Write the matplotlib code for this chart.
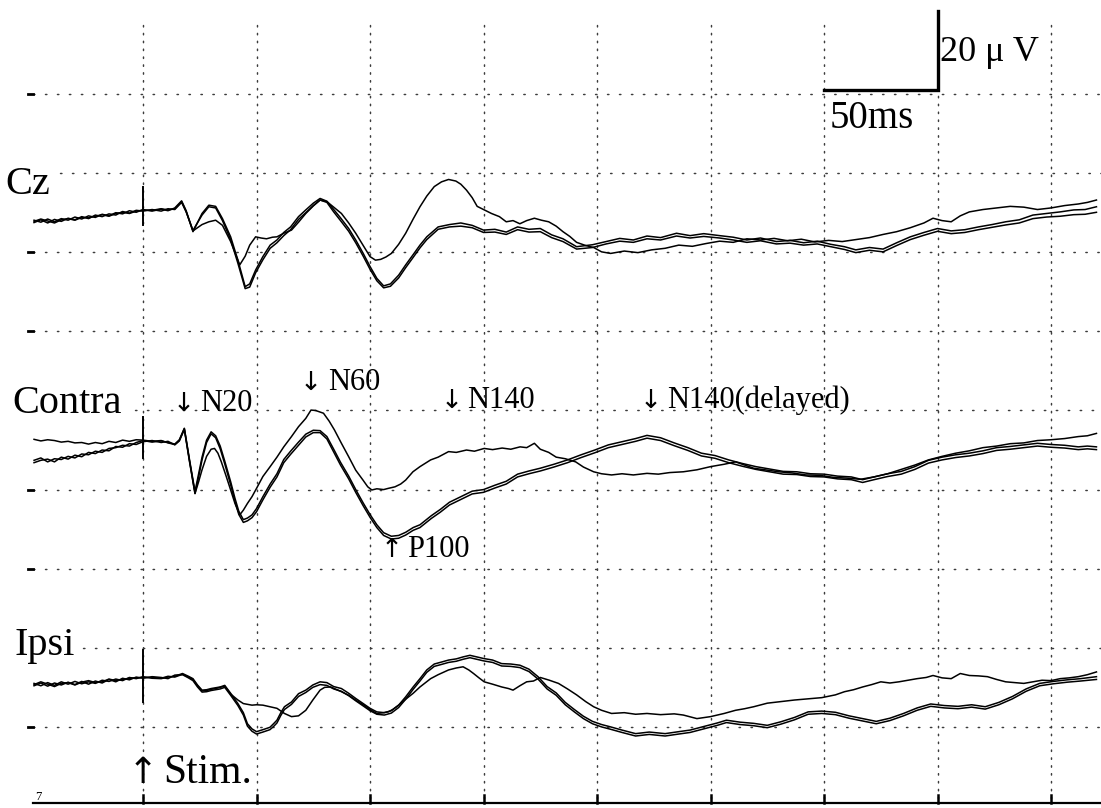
import matplotlib
matplotlib.use("Agg")
import matplotlib.pyplot as plt

# ---------------- data (time in ms from stimulus, amplitude in microvolts, negative up) -------------
cz_a = [(-48,1.9),(-45,2.4),(-42,1.6),(-39,2.3),(-36,1.5),(-33,1.9),(-30,1.1),(-27,1.6),(-24,0.8),(-21,1.2),(-18,0.4),(-15,0.8),(-12,0.0),(-9,0.3),(-6,-0.5),(-3,-0.1),(0,-0.8),(4,-0.4),(8,-0.9),(11,-0.5),(14,-1.2),(17,-3.0),(19,-0.5),(22,4.8),(26,0.2),(29,-1.9),(32,-1.6),(35,1.5),(38.6,6.1),(41.8,12.0),(45,18.7),(47,18.0),(49.6,14.5),(52.8,11.1),(56,8.2),(59,6.9),(62,5.0),(65,3.6),(68.5,1.0),(71.7,-0.7),(75,-2.4),(78,-3.6),(81,-2.9),(84,-0.8),(87,1.3),(90.6,4.0),(93.7,6.9),(97,10.3),(100,13.6),(103,16.6),(106,18.5),(109,18.0),(112.6,15.8),(115.7,13.2),(119,10.6),(122,8.2),(125,6.1),(130,3.6),(135,3.0),(140,2.6),(145,3.2),(150,4.4),(155,4.2),(160,4.9),(165,3.6),(170,4.2),(175,4.0),(180,5.6),(185,6.6),(191,8.6),(198,8.1),(204,7.3),(210,6.5),(216,6.9),(222,5.9),(228,6.3),(235,5.2),(241,5.8),(247,5.3),(254,5.8),(260,6.2),(266,6.9),(272,6.4),(279,7.3),(285,7.0),(291,7.6),(297,7.2),(303,8.0),(309,8.6),(314,9.4),(320,8.8),(326,9.2),(332,7.6),(338,6.1),(344,5.0),(350,4.0),(356,4.6),(362,4.3),(368,3.6),(374,3.0),(380,2.3),(386,1.8),(392,0.6),(398,0.2),(404,-0.2),(410,-0.7),(415,-0.8),(420,-1.5)]

cz_b = [(-48,2.5),(-45,1.8),(-42,2.6),(-39,1.7),(-36,2.2),(-33,1.4),(-30,1.8),(-27,1.0),(-24,1.5),(-21,0.6),(-18,1.0),(-15,0.3),(-12,0.6),(-9,-0.3),(-6,0.1),(-3,-0.6),(0,-0.4),(4,-0.8),(8,-0.4),(11,-1.0),(14,-0.8),(17,-2.6),(19,-0.2),(22,4.5),(26,0.6),(29,-1.5),(32,-1.2),(35,2.0),(38.6,6.8),(41.8,12.8),(45,19.2),(47,18.8),(49.6,15.2),(52.8,11.9),(56,9.0),(59,7.6),(62,5.8),(65,4.3),(68.5,1.7),(71.7,0.0),(75,-1.8),(78,-3.2),(81,-2.6),(84,-0.2),(87,2.0),(90.6,4.7),(93.7,7.6),(97,11.0),(100,14.3),(103,17.2),(106,19.0),(109,18.6),(112.6,16.5),(115.7,13.9),(119,11.3),(122,8.9),(125,6.8),(130,4.2),(135,3.6),(140,3.4),(145,3.8),(150,5.0),(155,4.9),(160,5.5),(165,4.3),(170,4.9),(175,4.8),(180,6.3),(185,7.3),(191,9.2),(198,8.8),(204,7.9),(210,7.2),(216,7.5),(222,6.6),(228,6.9),(235,5.9),(241,6.4),(247,6.0),(254,6.4),(260,6.9),(266,7.5),(272,7.1),(279,7.9),(285,7.7),(291,8.2),(297,7.9),(303,8.6),(309,9.3),(314,10.1),(320,9.5),(326,9.9),(332,8.3),(338,6.8),(344,5.7),(350,4.7),(356,5.3),(362,5.0),(368,4.3),(374,3.7),(380,3.1),(386,2.6),(392,1.5),(398,1.1),(404,0.9),(410,0.5),(415,0.4),(420,-0.1)]

cz_c = [(-48,2.2),(-45,1.6),(-42,2.1),(-39,2.6),(-36,1.8),(-33,1.5),(-30,1.9),(-27,1.2),(-24,1.3),(-21,0.9),(-18,0.5),(-15,0.9),(-12,0.2),(-9,-0.1),(-6,0.2),(-3,-0.4),(0,-0.6),(4,-0.6),(8,-1.0),(11,-0.7),(14,-1.0),(17,-2.8),(19,-0.3),(22,4.6),(26,3.0),(29,2.3),(32,1.9),(35,3.2),(38.6,7.3),(42.6,13.2),(45,11.0),(47,8.2),(49.6,6.1),(52,6.4),(54.4,6.6),(57,6.2),(59,6.1),(62,5.2),(65.4,4.4),(68.5,2.4),(71.7,0.2),(75,-1.7),(78,-3.2),(81,-2.8),(84,-1.4),(87.4,0.2),(90.6,2.6),(93.7,5.2),(97,8.3),(100,11.1),(102.4,12.0),(104.7,11.8),(107,11.2),(109.4,10.3),(112.6,8.0),(115.7,5.2),(119,1.6),(122,-1.5),(125,-4.2),(128.3,-6.6),(131.5,-7.8),(134.6,-8.4),(137.8,-8.0),(140,-7.2),(142.5,-5.7),(145,-3.8),(147.2,-1.6),(150,-0.8),(153.5,0.2),(157,1.0),(160,2.3),(163,2.0),(166,2.8),(169,2.0),(172.4,1.4),(175.5,1.9),(178.7,2.3),(182,3.4),(185,4.8),(188,6.0),(191,7.5),(195,8.3),(198.5,8.8),(202,9.9),(206,10.3),(212,9.7),(218,10.1),(224,9.4),(230,9.0),(236,8.2),(242,8.5),(248,7.8),(254,7.2),(260,7.5),(266,6.6),(272,6.9),(278,6.5),(284,7.1),(290,6.7),(296,7.4),(302,7.0),(308,7.3),(314,6.8),(320,6.3),(326,5.5),(332,4.8),(338,3.8),(344,2.6),(348,1.4),(352,2.0),(356,2.3),(360,0.8),(364,-0.2),(370,-0.8),(376,-1.2),(382,-1.6),(388,-1.4),(394,-0.8),(400,-1.2),(406,-1.8),(412,-2.2),(416,-2.6),(420,-3.2)]

contra_a = [(-48,2.6),(-45,2.0),(-42,3.0),(-39,2.2),(-36,2.4),(-33,1.6),(-30,2.0),(-27,1.0),(-24,1.2),(-21,0.3),(-18,0.6),(-15,-0.4),(-12,-0.6),(-9,-1.2),(-6,-1.0),(-3,-1.9),(0,-2.4),(4,-2.0),(8,-2.3),(11,-1.9),(14,-1.5),(16,-2.6),(18.2,-5.5),(20.5,2.5),(22.9,10.5),(24.5,6.0),(26,1.8),(28,-2.5),(30,-4.6),(32,-3.6),(34,-1.0),(36,2.8),(38.6,8.0),(40.5,12.2),(42.2,15.5),(44.2,17.6),(46,17.2),(48,16.4),(50,14.8),(52.8,11.8),(56,8.6),(59,6.0),(62,2.4),(65,0.3),(68.5,-2.0),(71.7,-4.0),(75,-5.0),(78,-4.9),(81,-3.4),(84,-0.2),(87,3.1),(90.6,6.6),(93.7,10.0),(97,13.4),(100,16.3),(103,18.9),(106,20.9),(109.4,21.8),(112.6,21.6),(115.7,20.8),(119,19.6),(122,18.9),(127,16.6),(131,15.0),(135,13.2),(140,11.8),(145,10.4),(150,10.0),(155,8.9),(160,7.9),(165,6.1),(170,5.3),(175,4.6),(181,3.6),(187,2.5),(193,1.2),(199,0.0),(205,-1.3),(211,-2.1),(217,-2.9),(222,-3.7),(228,-3.1),(234,-1.8),(240,-0.6),(246,0.8),(252,1.4),(258,2.5),(264,3.4),(270,4.2),(276,4.8),(282,5.4),(288,5.5),(294,6.0),(300,6.1),(306,6.6),(312,6.8),(317,7.5),(322,6.8),(328,6.0),(334,5.4),(340,4.2),(346,2.6),(352,1.8),(358,1.2),(364,0.8),(370,0.2),(376,-0.6),(382,-0.9),(388,-1.3),(394,-1.7),(400,-1.4),(406,-1.2),(412,-0.8),(416,-1.0),(420,-0.8)]

contra_b = [(-48,3.2),(-45,2.6),(-42,2.3),(-39,3.0),(-36,1.8),(-33,2.3),(-30,1.3),(-27,1.7),(-24,0.6),(-21,0.9),(-18,0.0),(-15,0.2),(-12,-0.9),(-9,-0.7),(-6,-1.6),(-3,-1.4),(0,-2.1),(4,-2.4),(8,-1.9),(11,-2.2),(14,-1.3),(16,-2.3),(18.2,-5.2),(20.5,3.0),(22.9,11.0),(24.5,6.8),(26,2.5),(28,-1.9),(30,-4.1),(32,-3.1),(34,-0.3),(36,3.5),(38.6,8.8),(40.5,13.0),(42.2,16.3),(44.2,18.3),(46,17.9),(48,17.1),(50,15.6),(52.8,12.6),(56,9.4),(59,6.8),(62,3.2),(65,1.1),(68.5,-1.2),(71.7,-3.3),(75,-4.4),(78,-4.4),(81,-2.8),(84,0.5),(87,3.8),(90.6,7.3),(93.7,10.7),(97,14.1),(100,17.0),(103,19.6),(106,21.6),(109.4,22.5),(112.6,22.3),(115.7,21.5),(119,20.3),(122,19.6),(127,17.3),(131,15.7),(135,13.9),(140,12.5),(145,11.1),(150,10.7),(155,9.6),(160,8.6),(165,6.8),(170,6.0),(175,5.3),(181,4.3),(187,3.2),(193,1.9),(199,0.7),(205,-0.6),(211,-1.4),(217,-2.2),(222,-3.0),(228,-2.4),(234,-1.1),(240,0.1),(246,1.5),(252,2.1),(258,3.2),(264,4.1),(270,4.9),(276,5.5),(282,6.1),(288,6.2),(294,6.7),(300,6.8),(306,7.3),(312,7.5),(317,8.2),(322,7.5),(328,6.7),(334,6.1),(340,4.9),(346,3.3),(352,2.5),(358,1.9),(364,1.5),(370,0.9),(376,0.1),(382,-0.2),(388,-0.6),(394,-1.0),(400,-0.7),(406,-0.5),(412,-0.1),(416,-0.3),(420,-0.1)]

contra_c = [(-48,-2.7),(-45,-2.3),(-42,-2.6),(-39,-2.4),(-36,-2.0),(-33,-2.2),(-30,-1.8),(-27,-1.9),(-24,-1.5),(-21,-1.9),(-18,-1.6),(-15,-2.2),(-12,-1.9),(-9,-2.5),(-6,-2.2),(-3,-2.6),(0,-2.5),(4,-2.2),(8,-2.4),(11,-1.8),(14,-1.4),(16,-2.4),(18.2,-5.4),(20.5,2.8),(22.9,11.0),(24.5,8.0),(26,5.0),(28,1.6),(30,-0.2),(31.5,-0.4),(33,0.8),(34.5,3.0),(36.5,6.4),(38.6,10.1),(40.5,13.5),(42.6,16.4),(44.2,15.2),(46,13.5),(48,11.8),(50,9.7),(52.8,6.7),(56,4.2),(59,1.8),(62,-0.8),(65.4,-3.4),(68.5,-5.9),(71.7,-8.0),(74,-10.1),(76,-10.0),(79.5,-9.3),(82,-7.3),(84.3,-5.1),(87.4,-1.7),(90.6,1.7),(93.7,5.1),(96.9,7.6),(99,9.3),(100.8,10.1),(103,9.8),(106,10.0),(108,9.7),(111,9.3),(113.5,8.6),(115.7,7.6),(118.9,5.5),(122,4.2),(126.7,2.5),(130,1.8),(134.6,0.4),(138,0.6),(142.5,0.0),(146,0.3),(150.3,-0.4),(154,-0.1),(158.2,-0.5),(162,-0.2),(166.1,-0.8),(169,-0.6),(172.4,-1.7),(175,-0.2),(178.7,0.6),(182,1.8),(186,2.2),(190.6,3.0),(194,4.3),(198.5,5.5),(202,6.0),(206.4,6.3),(211,6.0),(216,6.3),(222,5.9),(227,6.1),(232,5.7),(238,5.5),(244,5.0),(250,4.2),(256,3.6),(261,3.0),(265,3.8),(269,4.6),(274,5.0),(280,5.5),(286,5.8),(292,6.3),(298,6.4),(304,6.9),(310,7.1),(316,7.4),(322,6.8),(328,6.0),(334,4.9),(340,3.8),(346,2.5),(352,1.6),(358,0.8),(364,0.2),(370,-0.6),(376,-1.0),(382,-1.6),(388,-1.8),(394,-2.4),(400,-2.6),(406,-2.9),(412,-3.4),(416,-3.6),(420,-4.2)]

ipsi_a = [(-48,1.0),(-45,1.6),(-42,0.8),(-39,1.5),(-36,0.6),(-33,1.2),(-30,0.5),(-27,1.1),(-24,0.6),(-21,1.0),(-18,0.2),(-15,0.5),(-12,-0.1),(-9,0.3),(-6,-0.5),(-3,-0.2),(0,-0.7),(4,-0.3),(8,-0.2),(11,-0.6),(14,-0.8),(17.4,-1.5),(20,-0.8),(22,-0.2),(24,1.4),(26,2.7),(28,2.6),(30,2.3),(32,2.1),(34,1.9),(36,1.5),(38.6,3.5),(41.8,6.1),(44.2,8.4),(46,11.2),(48,12.5),(50,13.2),(52.8,12.7),(55.9,12.1),(57.5,11.2),(59,10.3),(60.7,8.4),(62.3,6.9),(65.4,5.7),(68.5,3.6),(71.7,2.7),(74.8,1.4),(78,0.6),(81,0.8),(84,1.8),(87.4,2.3),(90.6,3.5),(93.7,4.8),(97,6.1),(100,7.3),(103,8.2),(106.3,8.4),(109.4,7.9),(112.6,6.5),(115.7,4.4),(119,1.9),(122,-0.2),(125,-2.4),(128.3,-3.9),(131.5,-4.4),(134.6,-4.9),(138,-5.2),(141,-5.7),(144,-6.1),(147,-5.7),(150,-5.3),(154,-4.9),(158,-4.0),(162,-3.9),(166,-3.6),(170,-2.6),(174,-0.7),(178,1.8),(182,3.4),(186,5.8),(190,7.6),(194,9.3),(198,10.6),(202,11.4),(206,12.0),(211,12.8),(217,13.7),(223,13.3),(230,13.7),(236,13.2),(241,12.8),(247,11.9),(253,11.0),(257,10.3),(263,10.8),(269,11.1),(275,11.6),(281,10.7),(287,9.6),(293,8.2),(299,8.0),(305,8.3),(311,9.2),(317,9.9),(323,10.6),(329,9.8),(335,8.6),(341,7.2),(347,6.2),(353,6.6),(359,6.8),(365,6.4),(371,6.9),(377,5.8),(383,4.3),(389,2.4),(395,1.0),(401,0.5),(407,0.1),(413,-0.2),(420,-0.7)]

ipsi_b = [(-48,1.6),(-45,0.9),(-42,1.7),(-39,0.9),(-36,1.4),(-33,0.7),(-30,1.3),(-27,0.5),(-24,1.2),(-21,0.4),(-18,0.9),(-15,0.0),(-12,0.6),(-9,-0.3),(-6,0.1),(-3,-0.6),(0,-0.3),(4,-0.7),(8,-0.5),(11,-0.2),(14,-1.1),(17.4,-1.2),(20,-0.4),(22,0.3),(24,1.9),(26,3.2),(28,3.1),(30,2.8),(32,2.6),(34,2.4),(36,2.0),(38.6,4.0),(41.8,6.6),(44.2,9.0),(46,11.8),(48,13.1),(50,13.8),(52.8,13.3),(55.9,12.7),(57.5,11.9),(59,11.0),(60.7,9.1),(62.3,7.6),(65.4,6.3),(68.5,4.3),(71.7,3.3),(74.8,2.0),(78,1.3),(81,1.5),(84,2.4),(87.4,3.0),(90.6,4.1),(93.7,5.4),(97,6.7),(100,7.9),(103,8.8),(106.3,9.0),(109.4,8.5),(112.6,7.1),(115.7,5.0),(119,2.5),(122,0.4),(125,-1.8),(128.3,-3.3),(131.5,-3.8),(134.6,-4.3),(138,-4.6),(141,-5.1),(144,-5.5),(147,-5.1),(150,-4.7),(154,-4.3),(158,-3.4),(162,-3.3),(166,-3.0),(170,-2.0),(174,-0.1),(178,2.4),(182,4.0),(186,6.4),(190,8.2),(194,9.9),(198,11.2),(202,12.0),(206,12.6),(211,13.4),(217,14.3),(223,13.9),(230,14.3),(236,13.8),(241,13.4),(247,12.5),(253,11.6),(257,10.9),(263,11.4),(269,11.7),(275,12.2),(281,11.3),(287,10.2),(293,8.8),(299,8.6),(305,8.9),(311,9.8),(317,10.5),(323,11.2),(329,10.4),(335,9.2),(341,7.8),(347,6.8),(353,7.2),(359,7.4),(365,7.0),(371,7.5),(377,6.4),(383,4.9),(389,3.0),(395,1.6),(401,1.1),(407,0.7),(413,0.4),(420,0.0)]

ipsi_c = [(-48,1.3),(-45,0.6),(-42,1.2),(-39,1.8),(-36,1.0),(-33,0.8),(-30,1.4),(-27,0.7),(-24,0.3),(-21,0.8),(-18,0.6),(-15,-0.1),(-12,0.3),(-9,0.0),(-6,-0.3),(-3,-0.4),(0,-0.5),(4,-0.5),(8,-0.3),(11,-0.8),(14,-0.6),(17.4,-1.3),(20,-0.6),(22,0.0),(24,1.6),(26,2.9),(28,2.8),(30,2.5),(32,2.3),(34,2.0),(36,1.7),(38.6,3.7),(41.8,5.2),(44.2,6.1),(46,6.3),(48,6.5),(50,6.4),(52.8,6.5),(55.9,6.9),(59,7.3),(62.3,8.6),(65.4,9.4),(68.5,9.2),(71.7,7.8),(74.8,5.2),(78,2.7),(80,2.0),(82.7,1.9),(85,2.5),(87.4,3.1),(90.6,4.0),(93.7,5.2),(97,6.4),(100,7.6),(103,8.6),(106,8.4),(108,8.2),(110,7.6),(112.6,6.5),(115.7,5.0),(119,3.5),(122,1.9),(124.5,0.8),(126.7,-0.2),(130,-1.2),(134.6,-2.4),(138,-2.9),(141,-3.2),(143.5,-2.4),(145.6,-1.5),(148,-0.4),(150.3,0.6),(154,1.2),(158,1.9),(161,2.3),(163,2.7),(166,1.6),(169,0.6),(172,0.4),(175,-0.5),(179,0.2),(183,1.0),(187,2.4),(191,3.9),(195,5.6),(198.5,6.9),(202,7.8),(206.4,8.6),(212,8.4),(217,8.8),(222,8.6),(228,8.9),(234,8.7),(238,9.0),(244,9.9),(250,9.4),(256,8.6),(261,7.8),(265,7.4),(269,6.9),(275,6.0),(281,5.6),(287,5.2),(293,4.9),(299,4.6),(305,3.9),(309,3.1),(313,2.6),(317,1.9),(321,1.3),(325,0.6),(329,0.9),(333,0.6),(337,0.2),(341,-0.2),(345,-0.5),(348,-1.0),(352,-0.4),(356,-0.2),(360,-1.5),(364,-1.0),(368,-0.9),(372,-0.7),(376,0.0),(380,0.6),(384,0.8),(388,1.0),(392,0.6),(396,0.2),(400,0.3),(404,-0.2),(408,-0.4),(412,-0.7),(416,-1.2),(420,-1.9)]

channel_names = ["Cz", "Contra", "Ipsi"]
channel_offsets = [50, 110, 168]          # display offset of each channel (uV)
channel_traces = [[cz_a, cz_b, cz_c], [contra_a, contra_b, contra_c], [ipsi_a, ipsi_b, ipsi_c]]
stim_artifact = [(-6.5, 3.1), (-8.3, 2.0), (-7.4, 5.7)]   # extent of stimulus artefact at t=0
channel_label_pos = [(-60.8, 45.3), (-57.7, 100.7), (-56.4, 161.8)]

grid_times = [0, 50, 100, 150, 200, 250, 300, 350, 400]
grid_levels = [20, 40, 60, 80, 100, 120, 140, 160, 180]
grid_starts = [-48.6, -36.5, -48.6, -48.6, -3.5, -48.6, -48.6, -26.5, -48.6]   # row start (ms)
grid_dash = [True, False, True, True, False, True, True, False, True]

# (arrow, label, arrow centre ms, label left ms, baseline uV)
peak_labels = [("\u2193", "N20", 18.1, 25.1, 100.2), ("\u2193", "N60", 74.0, 81.5, 94.8),
               ("\u2193", "N140", 136.1, 142.7, 99.4), ("\u2193", "N140(delayed)", 223.8, 230.8, 99.4),
               ("\u2191", "P100", 109.7, 116.3, 137.0)]
stim_label = ("\u2191", "Stim.", 0.0, 8.8, 194.2)

scale_ms = 50
scale_uv = 20
scale_origin = (350, 19)   # corner of scale bar (time, uV)

# ---------------- figure ----------------
fig = plt.figure(figsize=(11.01, 8.08), dpi=100)
ax = fig.add_axes([0, 0, 1, 1])
ax.set_xlim(-63.0, 422.0)
ax.set_ylim(200.5, -3.77)
ax.axis("off")

serif = ["Liberation Serif", "DejaVu Serif"]
arrow_font = ["DejaVu Sans"]
grid_col = "#3c3c3c"

for y, x0, dash in zip(grid_levels, grid_starts, grid_dash):
    ax.plot([x0, 422], [y, y], color=grid_col, lw=1.05, linestyle=(0, (1, 7.2)),
            dash_capstyle="round", zorder=1)
    if dash:
        ax.plot([-50.5, -48.6], [y, y], color="k", lw=2.0, zorder=1)
for t in grid_times:
    ax.plot([t, t], [2.5, 198.5], color=grid_col, lw=1.05, linestyle=(0, (1, 4.4)),
            dash_capstyle="round", zorder=1)

# bottom time axis with ticks
ax.plot([-48.5, 422], [199.3, 199.3], color="k", lw=1.6, zorder=2)
for t in grid_times:
    ax.plot([t, t], [199.3, 197.2], color="k", lw=1.8, zorder=2)

# traces
for off, traces, art in zip(channel_offsets, channel_traces, stim_artifact):
    for tr in traces:
        ts = [p[0] for p in tr]
        vs = [off + p[1] for p in tr]
        ax.plot(ts, vs, color="black", lw=1.1, zorder=3)
    ax.plot([0, 0], [off + art[0], off + art[1]], color="black", lw=1.4, zorder=3)

# labels
for name, (tx, ty) in zip(channel_names, channel_label_pos):
    ax.text(tx, ty, name, family=serif, fontsize=29, ha="left", va="baseline", zorder=4)
for arr, txt, ax_t, tx_t, ty in peak_labels:
    ax.text(ax_t, ty, arr, family=arrow_font, fontsize=19, ha="center", va="baseline", zorder=4)
    ax.text(tx_t, ty, txt, family=serif, fontsize=22, ha="left", va="baseline", zorder=4)
arr, txt, ax_t, tx_t, ty = stim_label
ax.text(ax_t, ty, arr, family=arrow_font, fontsize=26, ha="center", va="baseline", zorder=4)
ax.text(tx_t, ty, txt, family=serif, fontsize=30, ha="left", va="baseline", zorder=4)
ax.text(-47.6, 198.6, "7", family=serif, fontsize=9, ha="left", va="baseline", zorder=4)

# scale bar
sx, sy = scale_origin
ax.plot([sx - scale_ms, sx, sx], [sy, sy, sy - scale_uv], color="black", lw=2.4,
        solid_joinstyle="miter", zorder=4)
ax.text(sx + 1.2, 11.7, "20 \u03bc V", family=serif, fontsize=26, ha="left", va="baseline")
ax.text(sx - scale_ms + 2.6, 28.6, "50ms", family=serif, fontsize=28, ha="left", va="baseline")

fig.savefig("out.png", dpi=100)
